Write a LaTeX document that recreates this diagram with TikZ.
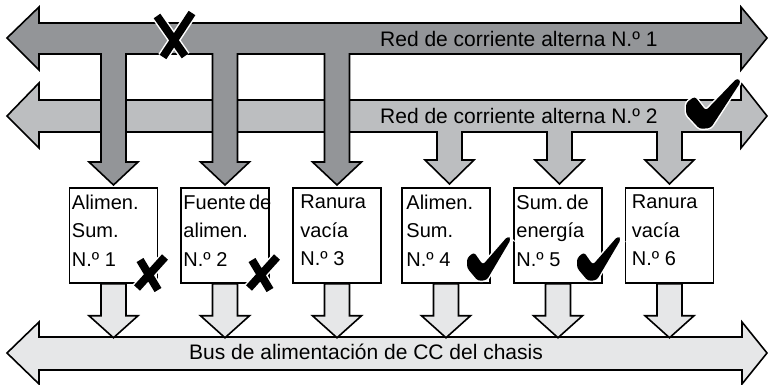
\documentclass[tikz,border=0pt]{standalone}
\usepackage{fontspec}
\setmainfont{Liberation Sans}
\usetikzlibrary{calc}

\definecolor{acone}{HTML}{939598}
\definecolor{actwo}{HTML}{BCBEC0}
\definecolor{dcbus}{HTML}{E6E7E8}

\tikzset{
  bus/.style={draw=black, line width=1.6pt, line join=miter},
  slot/.style={draw=black, fill=white, line width=1.5pt, minimum width=88pt, minimum height=95pt, inner sep=0pt},
  slotlabel/.style={anchor=north west, inner sep=0pt, align=left, font=\fontsize{20}{28.5}\selectfont},
  buslabel/.style={anchor=base west, inner sep=0pt, font=\fontsize{21}{25}\selectfont},
  badmark/.style={draw=black, line width=8pt, preaction={draw=white, line width=11pt}},
}

% check mark: lower left corner x, top y, width, height
\newcommand{\okmark}[4]{%
  \fill[black, rounded corners=3pt, preaction={draw=white, line width=3pt},
        shift={(#1,#2)}, x=#3pt, y=-#4pt]
    (0,0.49) -- (0.16,0.36) -- (0.36,0.64) -- (0.93,0) -- (1,0.07)
    -- (0.45,0.98) -- (0.25,1) -- (0,0.71) -- cycle;}

\begin{document}
\begin{tikzpicture}[x=1pt, y=-1pt]
    \useasboundingbox (0,0) rectangle (768,385);

    % second ac network with its feeds
    \draw [bus, fill=actwo] (7,116) -- (39,83) -- (39,100) -- (741,100) -- (741,83)
        -- (767,116) -- (741,148) -- (741,132)
        \foreach \c in {669.5,559.5,449.5} {
            -- (\c+12.5,132) -- (\c+12.5,160) -- (\c+24.5,160) -- (\c,184)
            -- (\c-24.5,160) -- (\c-12.5,160) -- (\c-12.5,132)
        }
        -- (39,132) -- (39,148) -- cycle;

    % first ac network with its feeds
    \draw [bus, fill=acone] (7,38) -- (39,7) -- (39,23) -- (741,23) -- (741,7)
        -- (767,38) -- (741,70) -- (741,54)
        \foreach \c in {337,225,113.5} {
            -- (\c+12.5,54) -- (\c+12.5,162) -- (\c+24.5,162) -- (\c,185)
            -- (\c-24.5,162) -- (\c-12.5,162) -- (\c-12.5,54)
        }
        -- (39,54) -- (39,70) -- cycle;

    \node [buslabel] (acone-label) at (380,47) {Red de corriente alterna N.º 1};
    \node [buslabel] (actwo-label) at (380,124) {Red de corriente alterna N.º 2};

    % chassis dc bus
    \draw [bus, fill=dcbus] (7,353) -- (39,322) -- (39,337) -- (742,337) -- (742,322)
        -- (767,353) -- (742,384) -- (742,370) -- (39,370) -- (39,384) -- cycle;
    \node [buslabel] (dcbus-label) at (189,359) {Bus de alimentación de CC del chasis};

    % slots
    \foreach \n/\cx/\dx/\txt in {1/113.5/3/{Alimen.\\Sum.\\N.º 1},
                                2/225/3/{Fuente\,de\\alimen.\\N.º 2},
                                3/337/8/{Ranura\\vacía\\N.º 3},
                                4/446/5/{Alimen.\\Sum.\\N.º 4},
                                5/558/3/{Sum.\,de\\energía\\N.º 5},
                                6/669.5/7/{Ranura\\vacía\\N.º 6}} {
        \node [slot] (slot\n) at (\cx,235.5) {};
        \node [slotlabel] (slot\n-text) at ($(slot\n.north west)+(\dx,7.5)$) {\txt};
        \draw [bus, fill=dcbus] (slot\n.south) ++(-12.5,0) -- ++(0,32) -- ++(-12,0)
            -- ++(24.5,22) -- ++(24.5,-22) -- ++(-12,0) -- ++(0,-32) -- cycle;
    }

    % failed and working parts
    \draw [badmark] (157,16) -- (185,56) (192,13) -- (163,57);
    \draw [badmark] (140,260) -- (158,290) (165,257) -- (137,288);
    \draw [badmark] (252,260) -- (270,290) (277,257) -- (249,288);
    \okmark{686}{78}{55}{51}
    \okmark{467}{236}{44}{45}
    \okmark{577}{236}{44}{45}
\end{tikzpicture}
\end{document}
